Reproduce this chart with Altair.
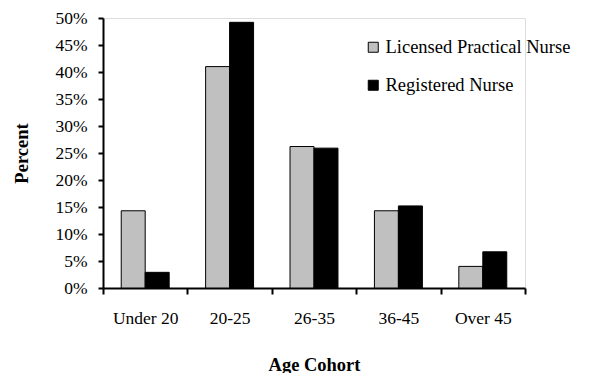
import altair as alt
import pandas as pd

categories = ["Under 20", "20-25", "26-35", "36-45", "Over 45"]
series = ["Licensed Practical Nurse", "Registered Nurse"]
lpn_values = [0.143, 0.410, 0.262, 0.143, 0.040]
rn_values = [0.029, 0.492, 0.259, 0.152, 0.067]
y_ticks = [0, 0.05, 0.10, 0.15, 0.20, 0.25, 0.30, 0.35, 0.40, 0.45, 0.50]
colors = ["#C0C0C0", "#000000"]

rows = []
for c, a, b in zip(categories, lpn_values, rn_values):
    rows.append({"cohort": c, "series": series[0], "value": a})
    rows.append({"cohort": c, "series": series[1], "value": b})
df = pd.DataFrame(rows)

FONT = "Liberation Serif"

bars = alt.Chart(df).mark_bar(stroke="black", strokeWidth=1).encode(
    x=alt.X(
        "cohort:N",
        sort=categories,
        scale=alt.Scale(paddingInner=0, paddingOuter=0),
        axis=alt.Axis(
            title="Age Cohort",
            labelAngle=0,
            tickBand="extent",
            tickSize=6,
            tickWidth=2,
            tickColor="black",
            domainColor="black",
            domainWidth=2,
            labelFont=FONT,
            labelFontSize=17.5,
            labelColor="black",
            labelPadding=15,
            titleFont=FONT,
            titleFontSize=18.5,
            titleFontWeight="bold",
            titleColor="black",
            titleY=82,
            titleBaseline="alphabetic",
        ),
    ),
    xOffset=alt.XOffset("series:N", sort=series, scale=alt.Scale(paddingOuter=0.76, paddingInner=0)),
    y=alt.Y(
        "value:Q",
        scale=alt.Scale(domain=[0, 0.5], nice=False),
        axis=alt.Axis(
            title="Percent",
            values=y_ticks,
            format=".0%",
            grid=False,
            tickSize=5,
            tickWidth=2,
            tickColor="black",
            domainColor="black",
            domainWidth=2,
            labelFont=FONT,
            labelFontSize=17.5,
            labelColor="black",
            labelPadding=11,
            titleFont=FONT,
            titleFontSize=18.5,
            titleFontWeight="bold",
            titleColor="black",
            titleX=-76,
            titleY=135,
            titleAngle=270,
            titleAlign="center",
            titleBaseline="alphabetic",
        ),
    ),
    color=alt.Color(
        "series:N",
        sort=series,
        scale=alt.Scale(domain=series, range=colors),
        legend=alt.Legend(
            title=None,
            orient="none",
            legendX=261,
            legendY=20,
            symbolType="square",
            symbolSize=100,
            symbolStrokeColor="black",
            symbolStrokeWidth=1,
            labelFont=FONT,
            labelFontSize=18.5,
            labelColor="black",
            labelOffset=3,
            rowPadding=19,
            labelLimit=400,
        ),
    ),
)

chart = bars.properties(
    width=422,
    height=270,
    autosize=alt.AutoSizeParams(type="none"),
    padding={"left": 103, "top": 18, "right": 65, "bottom": 85},
).configure_view(stroke=None).configure(background="white")

chart.save("out.html", embed_options={"renderer": "svg", "actions": False})
